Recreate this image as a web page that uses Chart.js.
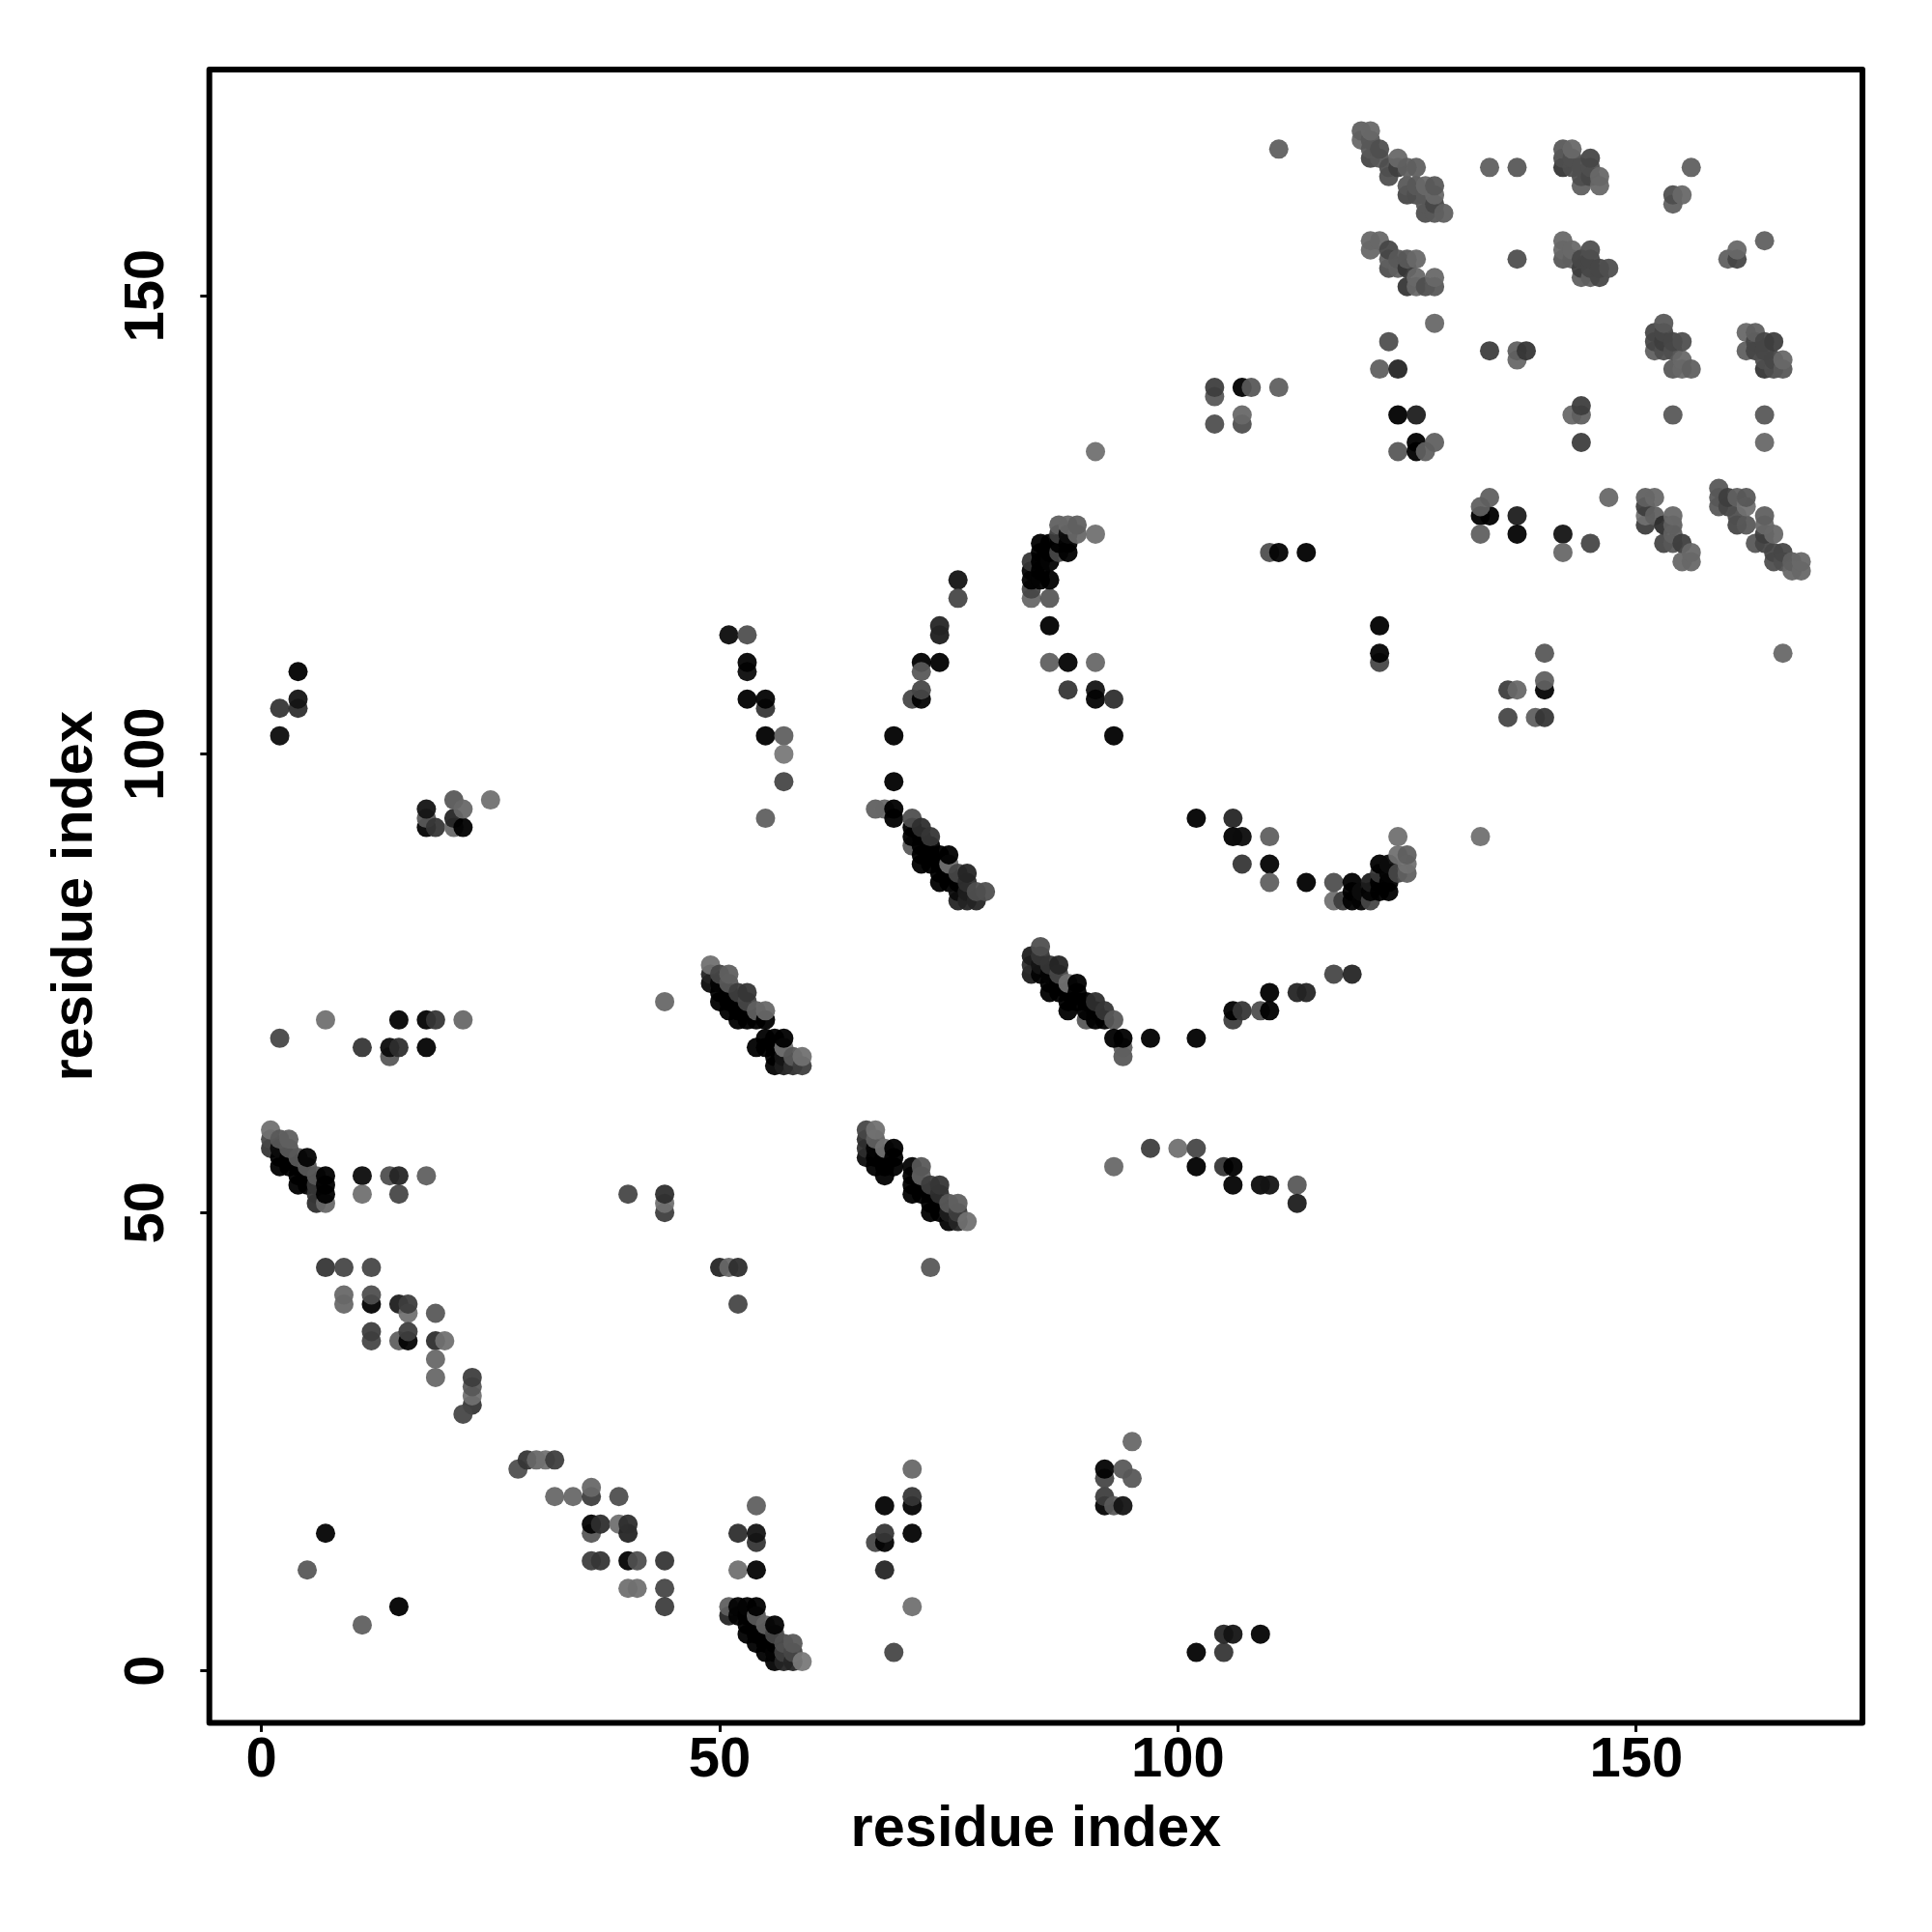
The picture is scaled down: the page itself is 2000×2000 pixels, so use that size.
<!DOCTYPE html>
<html>
<head>
<meta charset="utf-8">
<title>residue contact map</title>
<script src="https://cdn.jsdelivr.net/npm/chart.js@4"></script>
<style>
  html, body { margin: 0; padding: 0; background: #fff; }
  canvas { display: block; }
</style>
</head>
<body>
<canvas id="contactCanvas" width="2000" height="2000"></canvas>
<script>
// each point is [residue i, residue j, level], level runs from 0 (black) to 16 (lightest grey)
var tickValues = [0, 50, 100, 150];
var axisLabel = 'residue index';

var lowerLeft = [[7,71,15],[2,69,10],[11,68,8],[14,67,12],[14,68,3],[15,68,7],[15,71,2],[18,71,2],[19,71,8],[22,71,14],[18,68,2],
  [11,54,3],[14,54,11],[15,54,6],[18,54,13],[11,52,15],[15,52,10],[40,52,10],[44,50,9],[44,51,15],[44,52,7],
  [7,44,8],[9,44,10],[12,44,10],[50,44,6],[51,44,14],[52,44,7],[52,40,10],[73,44,12],
  [9,40,14],[9,41,14],[12,40,2],[12,41,11],[15,40,5],[16,39,15],[16,40,9],[19,39,12],
  [12,36,10],[12,37,9],[15,36,13],[16,36,2],[16,37,9],[19,36,7],[20,36,15],[19,34,14],[19,32,14],
  [23,29,8],[23,30,15],[23,31,12],[23,32,9],[22,28,10],[28,22,11],[29,23,8],[30,23,14],[31,23,15],[32,23,9],
  [32,19,14],[34,19,14],[36,19,9],[36,20,14],[39,19,11],[36,15,12],[36,16,2],[37,16,7],[39,16,15],[40,15,6],[40,16,7],
  [36,12,9],[37,12,8],[40,12,2],[41,12,11],[44,12,8],[40,9,15],[41,9,15],[44,9,10],[44,7,9],
  [7,15,2],[5,11,12],[15,7,1],[11,5,13]];

var lowerMiddle = [[54,18,13],[52,15,7],[54,14,8],[54,15,4],[52,11,15],[54,11,2],
  [71,22,14],[71,18,2],[71,19,8],[71,15,2],[68,18,2],[67,14,10],[68,14,2],[68,15,8],[68,11,6],[71,7,15],[69,2,10],
  [92,18,2],[92,19,9],[92,21,10],[92,22,2],[93,18,12],[94,18,4],[94,22,12],[95,21,12],[95,25,14],
  [102,2,2],[105,2,8],[105,4,6],[106,4,4],[109,4,2]];

var bandA = [[1,57,8],[1,58,10],[1,59,15],[2,55,1],[2,56,1],[2,57,3],[2,58,12],[3,55,1],[3,56,1],[3,57,12],[3,58,13],
  [4,53,1],[4,54,1],[4,55,1],[4,56,12],[5,53,1],[5,54,1],[5,55,12],[5,56,2],[6,51,7],[6,52,8],[6,53,8],[6,54,12],
  [7,51,14],[7,52,1],[7,53,1],[7,54,1]];

var bandB = [[51,6,6],[51,7,13],[52,6,2],[52,7,2],[53,4,1],[53,5,1],[53,6,1],[53,7,2],[54,3,1],[54,4,1],[54,5,1],[54,6,12],[54,7,1],
  [55,2,1],[55,3,1],[55,4,1],[55,5,13],[56,1,2],[56,2,2],[56,3,1],[56,4,10],[56,5,2],
  [57,1,6],[57,2,9],[57,3,11],[58,1,6],[58,2,10],[58,3,12],[59,1,16]];

var bandC = [[49,75,3],[49,76,6],[49,77,15],[50,73,1],[50,74,1],[50,75,2],[50,76,10],[51,72,1],[51,73,1],[51,74,1],[51,75,12],[51,76,13],
  [52,71,1],[52,72,1],[52,73,1],[52,74,9],[53,71,1],[53,72,1],[53,73,10],[53,74,8],[54,71,1],[54,72,13],[55,71,1],[55,72,14],
  [54,68,1],[55,68,1],[55,69,1],[56,66,2],[56,67,1],[56,68,1],[56,69,1],[57,66,5],[57,67,4],[57,68,15],[57,69,1],
  [58,66,7],[58,67,12],[59,66,9],[59,67,15]];

var bandD = [[66,56,3],[66,57,7],[66,58,7],[66,59,10],[67,55,1],[67,56,1],[67,57,2],[67,58,13],[67,59,15],[68,54,1],[68,55,1],[68,56,1],[68,57,15],
  [69,55,1],[69,56,1],[69,57,1],[71,52,1],[71,53,1],[71,54,1],[71,55,2],[72,52,1],[72,53,1],[72,54,13],[72,55,12],
  [73,50,1],[73,51,1],[73,52,1],[73,53,9],[74,50,1],[74,51,1],[74,52,7],[74,53,8],[75,49,2],[75,50,5],[75,51,12],
  [76,49,6],[76,50,9],[76,51,13],[77,49,15]];

var bandE = [[67,94,13],[68,94,14],[69,93,1],[69,94,1],[71,90,12],[71,91,1],[71,92,1],[71,93,11],[72,88,1],[72,89,1],[72,90,1],[72,91,1],[72,92,7],
  [73,88,1],[73,89,1],[73,90,1],[73,91,8],[74,86,1],[74,87,1],[74,88,1],[74,89,1],[75,86,1],[75,87,1],[75,88,15],[75,89,1],
  [76,84,6],[76,85,3],[76,86,1],[76,87,10],[77,84,6],[77,85,5],[77,86,7],[77,87,6],[78,84,6],[78,85,11],[79,85,11]];

var bandF = [[84,76,5],[84,77,7],[84,78,5],[85,76,2],[85,77,4],[85,78,8],[85,79,11],[86,74,1],[86,75,1],[86,76,2],[86,77,8],[87,74,1],[87,75,1],[87,76,10],[87,77,6],
  [88,72,1],[88,73,1],[88,74,1],[88,75,15],[89,73,1],[89,74,1],[89,75,1],[90,71,12],[90,72,1],[90,73,1],[91,71,1],[91,72,1],[91,73,7],[92,71,1],[92,72,8],[93,71,12],
  [94,67,12],[94,68,13],[93,69,1],[94,69,1],[97,69,1],[102,69,1],
  [106,71,9],[106,72,1],[107,72,8],[109,72,11],[110,72,1],[110,74,1],[113,74,6],[114,74,6],[117,76,10],[119,76,6]];

var archRight = [[102,93,1],[106,93,6],[106,91,1],[107,91,3],[110,91,13],[107,88,8],[110,88,2],[110,86,13],[114,86,1],
  [117,84,15],[117,86,11],[118,84,9],[119,84,2],[119,85,1],[119,86,1],[120,84,2],[120,85,3],[121,84,10],[121,85,2],[121,86,5],
  [122,85,1],[122,86,1],[122,87,8],[122,88,1],[123,85,1],[123,86,1],[123,87,2],[123,88,3],
  [124,87,10],[124,89,15],[124,91,15],[125,87,13],[125,88,15],[125,89,13]];

var middleRow = [[93,55,14],[97,57,9],[100,57,15],[102,57,10],[102,55,1],[105,55,8],[106,55,1],[106,53,2],[109,53,3],[110,53,4],[113,53,12],[113,51,5]];

var leftUpper = [[2,102,3],[2,105,8],[4,105,7],[4,106,4],[4,109,1],
  [18,92,2],[18,93,12],[18,94,4],[19,92,8],[21,92,14],[21,93,6],[21,95,12],[22,92,1],[22,94,14],[25,95,15],[44,73,14],
  [51,113,3],[53,113,11],[53,109,3],[53,110,2],[53,106,1],[55,105,8],[55,106,2],[55,102,1],[57,102,13],[57,100,16],[57,97,10],[55,93,13]];

var archLeft = [[76,119,4],[76,117,10],[74,113,5],[74,114,6],[74,110,1],[72,110,1],[72,109,12],[71,106,10],[72,106,2],[72,107,10],[69,102,1],[69,97,1]];

var bandG = [[84,117,14],[84,118,10],[84,119,1],[84,120,2],[84,121,8],[85,119,2],[85,120,1],[85,121,1],[85,122,1],[85,123,1],
  [86,117,12],[86,119,1],[86,121,2],[86,122,1],[86,123,1],[87,122,10],[87,123,1],[87,124,9],[87,125,13],[88,122,1],[88,123,1],[88,124,3],[88,125,14],
  [89,124,14],[89,125,13],[91,124,15],[86,114,1],[86,110,13],[88,110,2],[91,110,14],[88,107,8],[91,107,4],[91,106,2],[93,106,7],[93,102,1],[91,133,15]];

var midUpper = [[104,136,11],[104,139,12],[104,140,9],[107,136,11],[107,137,14],[107,140,1],[108,140,12],[111,140,13],[111,166,13],
  [110,122,11],[111,122,2],[114,122,1],[122,110,10],[122,111,2],[122,114,1],
  [128,147,14],[123,145,11],[122,142,13],[124,142,6],[124,137,1],[126,137,5],[124,133,12],[126,133,1],[126,134,1],[127,133,13],[128,134,13],
  [133,91,15],[136,107,9],[137,107,14],[140,107,2],[140,108,13],[140,111,12],[136,104,10],[139,104,13],[140,104,8],[166,111,14]];

var topRightSingles = [[134,164,13],[137,164,12],[137,154,11],[134,144,9],[137,143,14],[137,144,13],[138,144,8],
  [143,137,14],[144,137,13],[144,138,9],[144,134,9],[154,137,12],[164,137,12],[164,134,14],
  [156,164,13],[154,160,13],[154,161,11],[155,161,14],[164,156,13],[160,154,13],[161,154,10],[161,155,14],
  [133,126,1],[134,126,1],[133,127,13],[134,128,13],[137,126,5],[133,124,13],[137,124,2],[147,128,14],[142,124,4],[142,122,14],[145,123,10]];

var clusterH1 = [[120,167,14],[120,168,13],[121,165,10],[121,166,12],[121,167,12],[121,168,14],[122,165,12],[122,166,11],[123,163,11],[123,164,11],
  [124,164,9],[124,165,14],[125,161,10],[125,162,12],[125,164,13],[126,161,11],[126,162,12],[126,164,13],[127,159,11],[127,160,12],[127,161,12],[127,162,14],
  [128,159,12],[128,160,10],[128,161,14],[128,162,12],[129,159,13]];

var clusterH2 = [[121,155,14],[121,156,14],[122,156,14],[123,153,11],[123,154,13],[123,155,10],[124,153,13],[124,154,12],[125,151,8],[125,153,8],[125,154,12],
  [126,151,14],[126,152,14],[126,154,14],[127,151,11],[128,151,12],[128,152,14]];

var clusterH3 = [[142,164,8],[142,165,11],[142,166,12],[143,164,11],[143,165,11],[143,166,14],[144,162,13],[144,163,11],[144,164,11],[145,163,10],[145,164,11],[145,165,10],[146,162,14],[146,163,14]];

var clusterH4 = [[142,154,12],[142,155,14],[142,156,14],[143,154,13],[143,155,14],[144,152,13],[144,153,9],[144,154,10],[145,152,13],[145,153,10],[145,154,10],[145,155,11],[146,152,10],[146,153,10],[147,153,11]];

var clusterH5 = [[152,144,13],[152,145,10],[152,146,10],[153,144,11],[153,145,9],[153,146,10],[153,147,12],[154,142,12],[154,144,11],[154,145,10],[155,142,14],[155,143,14],[155,145,11],[156,142,13]];

var clusterH6 = [[162,144,13],[162,146,14],[163,144,10],[163,145,10],[163,146,13],[164,142,8],[164,143,11],[164,144,10],[164,145,10],[165,142,11],[165,143,10],[165,145,9],[166,142,12],[166,143,14]];

var clusterH7 = [[151,125,9],[151,126,15],[151,127,9],[151,128,13],[152,126,13],[152,128,14],[153,123,10],[153,125,7],[154,123,12],[154,124,13],[154,125,13],[154,126,14],[155,121,14],[155,123,9],[156,121,14],[156,122,14]];

var clusterH8 = [[159,127,12],[159,128,12],[159,129,12],[160,127,10],[160,128,9],[161,125,10],[161,126,11],[161,128,13],[162,125,12],[162,127,15],[162,128,12],
  [163,123,12],[164,123,10],[164,124,9],[164,125,14],[164,126,13],[165,121,11],[165,122,10],[165,124,14],[166,121,11],[166,122,10],[167,120,14],[167,121,13],[168,120,14],[168,121,14]];

var regions = [lowerLeft, lowerMiddle, bandA, bandB, bandC, bandD, bandE, bandF, archRight, middleRow, leftUpper, archLeft, bandG,
  midUpper, topRightSingles, clusterH1, clusterH2, clusterH3, clusterH4, clusterH5, clusterH6, clusterH7, clusterH8];

// the points are slightly see through, so work back from the grey seen on white
function levelColor(level)
{
    var g = Math.max(0, Math.round((level * 8 - 12.75) / 0.95));
    return 'rgba(' + g + ',' + g + ',' + g + ',0.95)';
}

var datasets = regions.map(function (region) {
    return {
        data: region.map(function (p) { return { x: p[0], y: p[1] }; }),
        pointBackgroundColor: region.map(function (p) { return levelColor(p[2]); }),
        pointBorderWidth: 0,
        pointRadius: 10,
        showLine: false
    };
});

var tickFont = { family: "'Liberation Sans', Arial, sans-serif", size: 58, weight: 'bold' };
var titleFont = { family: "'Liberation Sans', Arial, sans-serif", size: 59.5, weight: 'bold' };

// the frame round the plot area
var frame = {
    id: 'frame',
    afterDraw: function (chart) {
        var a = chart.chartArea, ctx = chart.ctx;
        ctx.save();
        ctx.strokeStyle = '#000';
        ctx.lineWidth = 6;
        ctx.lineJoin = 'round';
        ctx.strokeRect(a.left, a.top, a.right - a.left, a.bottom - a.top);
        ctx.restore();
    }
};

function setTicks(scale)
{
    scale.ticks = tickValues.map(function (v) { return { value: v }; });
}

new Chart(document.getElementById('contactCanvas'), {
    type: 'scatter',
    data: { datasets: datasets },
    plugins: [frame],
    options: {
        responsive: false,
        animation: false,
        layout: { padding: { top: 72, right: 72, left: 0, bottom: 0 } },
        plugins: { legend: { display: false }, tooltip: { enabled: false } },
        scales: {
            x: {
                type: 'linear',
                min: -5.68,
                max: 174.68,
                afterBuildTicks: setTicks,
                afterFit: function (scale) { scale.height = 216.5; },
                grid: { drawOnChartArea: false, drawTicks: true, tickLength: 9.4, tickWidth: 3, tickColor: '#000' },
                border: { display: false },
                ticks: { font: tickFont, color: '#000', padding: -4.8, maxRotation: 0, autoSkip: false },
                title: { display: true, text: axisLabel, font: titleFont, color: '#000', padding: { top: 0, bottom: 69.5 } }
            },
            y: {
                type: 'linear',
                min: -5.68,
                max: 174.68,
                afterBuildTicks: setTicks,
                afterFit: function (scale) { scale.width = 216.7; },
                grid: { drawOnChartArea: false, drawTicks: true, tickLength: 9.4, tickWidth: 3, tickColor: '#000' },
                border: { display: false },
                ticks: { font: tickFont, color: '#000', padding: 5.6, minRotation: 90, maxRotation: 90, crossAlign: 'center', autoSkip: false },
                title: { display: true, text: axisLabel, font: titleFont, color: '#000', padding: { top: 43, bottom: 0 } }
            }
        }
    }
});
</script>
</body>
</html>
